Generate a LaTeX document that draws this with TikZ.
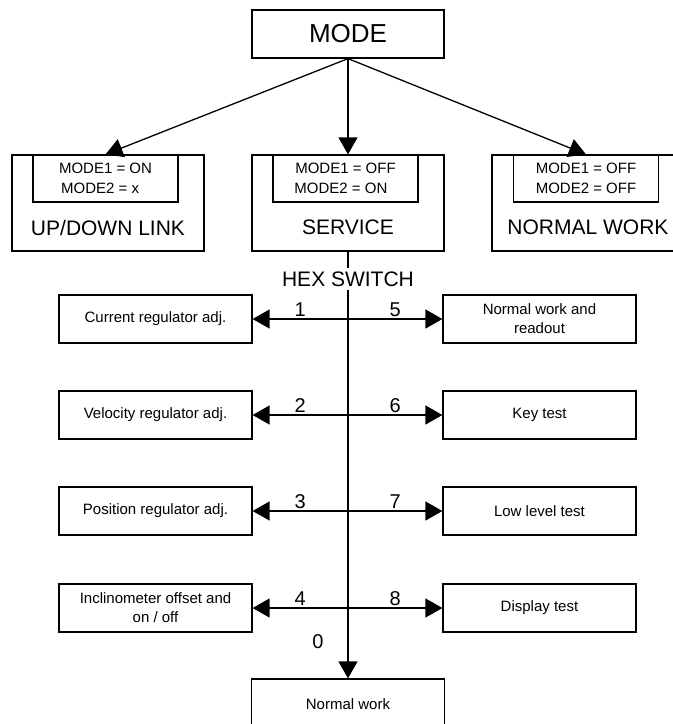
\documentclass[tikz,border=0pt]{standalone}
\usepackage{fontspec}
\setmainfont{Liberation Sans}
\usepackage{tikz}
\usetikzlibrary{arrows.meta,positioning}
\tikzset{
    modebox/.style={
    rectangle,draw=black,line width=1.2pt,minimum width=192pt,minimum height=48pt,
    font=\fontsize{26}{28}\selectfont
    },
    statebox/.style={
    rectangle,draw=black,line width=1.2pt,minimum width=192pt,minimum height=96pt
    },
    setbox/.style={
    rectangle,draw=black,line width=1.2pt,minimum width=145pt,minimum height=47pt,
    anchor=north,align=center,inner sep=0pt,font=\fontsize{15}{20}\selectfont
    },
    statetext/.style={
    font=\fontsize{21}{24}\selectfont,inner sep=0pt
    },
    funcbox/.style={
    rectangle,draw=black,line width=1.2pt,minimum width=193pt,minimum height=48pt,
    align=center,inner sep=1pt,font=\fontsize{15}{19}\selectfont
    },
    hexlabel/.style={
    font=\fontsize{21}{24}\selectfont,inner sep=3pt
    },
    numlabel/.style={
    font=\fontsize{20}{22}\selectfont,inner sep=2pt
    },
    link/.style={
    line width=1.3pt,-{Triangle[length=17pt,width=19pt]}
    },
    plain/.style={
    line width=1.3pt
    },
}

\begin{document}
\begin{tikzpicture}[x=1pt,y=1pt]
   \useasboundingbox (0,0) rectangle (673,-724);
   \node[modebox] (MODE) at (348,-34) {MODE};

   % operating modes
   \node[statebox] (UPDOWN) at (108,-203) {};
   \node[statebox] (SERVICE) at (348,-203) {};
   \node[statebox] (NORMAL) at (588,-203) {};
   \node[setbox] (UPDOWNset) at ([xshift=-2.5pt]UPDOWN.north) {MODE1 = ON\\MODE2 = x\phantom{N}};
   \node[setbox] (SERVICEset) at ([xshift=-2.5pt]SERVICE.north) {MODE1 = OFF\\MODE2 = ON\phantom{F}};
   \node[setbox] (NORMALset) at ([xshift=-2pt]NORMAL.north) {MODE1 = OFF\\MODE2 = OFF};
   \node[statetext] (UPDOWNtxt) at ([yshift=24pt]UPDOWN.south) {UP/DOWN LINK};
   \node[statetext] (SERVICEtxt) at ([yshift=24pt]SERVICE.south) {SERVICE};
   \node[statetext] (NORMALtxt) at ([yshift=24pt]NORMAL.south) {NORMAL WORK};

   \path
    (MODE.south) edge [link] (UPDOWNset.north)
                 edge [link] (SERVICE.north)
                 edge [link] (NORMALset.north);

   % hex switch positions
   \node[hexlabel] (HEX) at (348,-279) {HEX SWITCH};
   \node[funcbox] (CUR) at (155.5,-319) {Current regulator adj.};
   \node[funcbox] (VEL) at (155.5,-415) {Velocity regulator adj.};
   \node[funcbox] (POS) at (155.5,-511) {Position regulator adj.};
   \node[funcbox] (INC) at (155.5,-608) {Inclinometer offset and\\on / off};
   \node[funcbox] (NWR) at (539.5,-319) {Normal work and\\readout};
   \node[funcbox] (KEY) at (539.5,-415) {Key test};
   \node[funcbox] (LOW) at (539.5,-511) {Low level test};
   \node[funcbox] (DSP) at (539.5,-608) {Display test};
   \node[funcbox,minimum height=50pt] (NWK) at (348,-704) {Normal work};

   \coordinate (s1) at (HEX.center |- CUR.east);
   \coordinate (s2) at (HEX.center |- VEL.east);
   \coordinate (s3) at (HEX.center |- POS.east);
   \coordinate (s4) at (HEX.center |- INC.east);

   \draw[plain] (SERVICE) -- (HEX);
   \draw[link] (HEX) -- (NWK);
   \node[numlabel] (sel0) at (318,-642) {0};

   \path
    (s1) edge [link] node[numlabel,above] {1} (CUR)
         edge [link] node[numlabel,above] {5} (NWR)
    (s2) edge [link] node[numlabel,above] {2} (VEL)
         edge [link] node[numlabel,above] {6} (KEY)
    (s3) edge [link] node[numlabel,above] {3} (POS)
         edge [link] node[numlabel,above] {7} (LOW)
    (s4) edge [link] node[numlabel,above] {4} (INC)
         edge [link] node[numlabel,above] {8} (DSP);
\end{tikzpicture}
\end{document}
